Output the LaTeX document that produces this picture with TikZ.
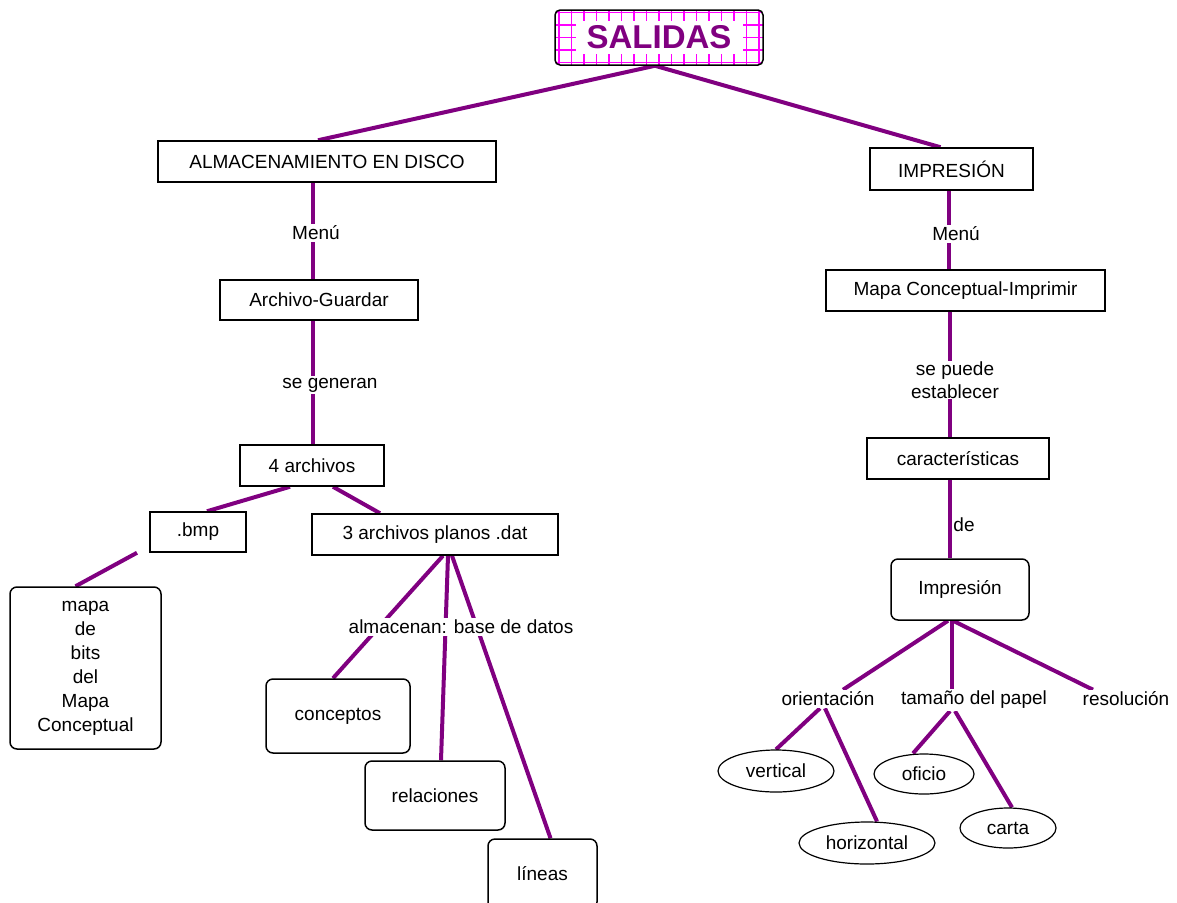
\documentclass[tikz,border=0pt]{standalone}
\usepackage{fontspec}
\setmainfont{Liberation Sans}
\definecolor{mypurple}{HTML}{800080}
\definecolor{mymagenta}{HTML}{FF00FF}
\usetikzlibrary{positioning, backgrounds, shapes.geometric}
\tikzset{
	conceptnode/.style={
			rectangle,
			draw=black,
			line width=1.5pt,
			fill=white,
			inner sep=0pt,
			font=\fontsize{19}{23}\selectfont
		},
	roundnode/.style={
			conceptnode,
			rounded corners=7pt,
			align=center
		},
	ovalnode/.style={
			ellipse,
			draw=black,
			line width=1.2pt,
			fill=white,
			inner sep=0pt,
			font=\fontsize{19}{23}\selectfont
		},
	linknode/.style={
			fill=white,
			inner sep=2pt,
			align=center,
			font=\fontsize{19}{23}\selectfont
		},
	titlenode/.style={
			rectangle,
			draw=black,
			line width=1.5pt,
			rounded corners=5pt,
			fill=white,
			minimum width=208pt,
			minimum height=55pt,
			path picture={
				\draw[mymagenta, line width=1.2pt, step=12.5pt]
					(path picture bounding box.south west) grid (path picture bounding box.north east);
			}
		},
	linkline/.style={
			draw=mypurple,
			line width=4pt
		}
}

\begin{document}
\begin{tikzpicture}[x=1pt, y=-1pt]
	\useasboundingbox (0,0) rectangle (1177,902);

	\node[titlenode] at (659,37.5) (salidas) {};
	\node[fill=white, text=mypurple, minimum width=167pt, minimum height=33pt, inner sep=0pt,
		font=\fontsize{33}{36}\selectfont\bfseries] at (salidas) {SALIDAS};

	\node[conceptnode, minimum width=338pt, minimum height=41pt] at (327,161.5) (almacen) {ALMACENAMIENTO EN DISCO};
	\node[linknode] at (316,233) (menua) {Menú};
	\node[conceptnode, minimum width=198pt, minimum height=40pt] at (319,300) (guardar) {Archivo-Guardar};
	\node[linknode] at (330,385) (generan) {se generan};
	\node[conceptnode, minimum width=144pt, minimum height=41pt] at (312,465.5) (cuatro) {4 archivos};
	\node[conceptnode, minimum width=96pt, minimum height=40pt] at (198,532) (bmp) {.bmp};
	\node[conceptnode, minimum width=246pt, minimum height=41pt] at (435,534.5) (dat) {3 archivos planos .dat};
	\node[roundnode, minimum width=151pt, minimum height=162pt] at (85.5,668) (mapa)
		{mapa\\[1pt]de\\[1pt]bits\\[1pt]del\\[1pt]Mapa\\[1pt]Conceptual};
	\node[linknode] at (461,627) (almacenan) {almacenan: base de datos};
	\node[roundnode, minimum width=144pt, minimum height=74pt] at (338,716) (conceptos) {conceptos};
	\node[roundnode, minimum width=140pt, minimum height=69pt] at (435,795.5) (relaciones) {relaciones};
	\node[roundnode, minimum width=109pt, minimum height=70pt] at (542.5,874) (lineas) {líneas};

	\node[conceptnode, minimum width=163pt, minimum height=42pt] at (951.5,169) (impresion) {IMPRESIÓN};
	\node[linknode] at (956,234) (menub) {Menú};
	\node[conceptnode, minimum width=279pt, minimum height=41pt] at (965.5,290.5) (imprimir) {Mapa Conceptual-Imprimir};
	\node[linknode, inner sep=1pt] at (955,380) (puede) {se puede\\establecer};
	\node[linknode, fill=none, inner sep=1pt] at (964,525) (de) {de};
	\node[conceptnode, minimum width=182pt, minimum height=41pt] at (958,458.5) (caract) {características};
	\node[roundnode, minimum width=138pt, minimum height=61pt] at (960,589.5) (impbox) {Impresión};
	\node[linknode] at (828,699) (orient) {orientación};
	\node[linknode] at (974,700) (tamano) {tamaño del papel};
	\node[linknode] at (1126,699) (resol) {resolución};
	\node[ovalnode, minimum width=116pt, minimum height=42pt] at (776,771) (vertical) {vertical};
	\node[ovalnode, minimum width=100pt, minimum height=40pt] at (924,774) (oficio) {oficio};
	\node[ovalnode, minimum width=136pt, minimum height=42pt] at (867,843) (horizontal) {horizontal};
	\node[ovalnode, minimum width=96pt, minimum height=40pt] at (1008,828) (carta) {carta};

	\begin{scope}[on background layer]
		\draw[linkline] ([xshift=-4pt]salidas.south) -- ([xshift=-9pt]almacen.north);
		\draw[linkline] ([xshift=-4pt]salidas.south) -- ([xshift=-11pt]impresion.north);
		\draw[linkline] ([xshift=-14pt]almacen.south) -- ([xshift=-6pt]guardar.north);
		\draw[linkline] ([xshift=-6pt]guardar.south) -- ([xshift=1pt]cuatro.north);
		\draw[linkline] ([xshift=-22pt]cuatro.south) -- ([xshift=9pt]bmp.north);
		\draw[linkline] ([xshift=21pt]cuatro.south) -- ([xshift=-55pt]dat.north);
		\draw[linkline] ([xshift=-61pt]bmp.south) -- ([xshift=-10pt]mapa.north);
		\draw[linkline] ([xshift=8pt]dat.south) -- ([xshift=-5pt]conceptos.north);
		\draw[linkline] ([xshift=13pt]dat.south) -- ([xshift=6pt]relaciones.north);
		\draw[linkline] ([xshift=17pt]dat.south) -- ([xshift=8pt]lineas.north);
		\draw[linkline] ([xshift=-2.5pt]impresion.south) -- ([xshift=-16.5pt]imprimir.north);
		\draw[linkline] ([xshift=-15.5pt]imprimir.south) -- ([xshift=-8pt]caract.north);
		\draw[linkline] ([xshift=-8pt]caract.south) -- ([xshift=-10pt]impbox.north);
		\draw[linkline] ([xshift=-12pt]impbox.south) -- ([xshift=15pt]orient.north);
		\draw[linkline] ([xshift=-8pt]impbox.south) -- ([xshift=-22pt]tamano.north);
		\draw[linkline] ([xshift=-7pt]impbox.south) -- ([xshift=-33pt]resol.north);
		\draw[linkline] ([xshift=-8pt]orient.south) -- (vertical.north);
		\draw[linkline] ([xshift=-3pt]orient.south) -- ([xshift=10pt]horizontal.north);
		\draw[linkline] ([xshift=-24pt]tamano.south) -- ([xshift=-11pt]oficio.north);
		\draw[linkline] ([xshift=-19pt]tamano.south) -- ([xshift=4pt]carta.north);
	\end{scope}
\end{tikzpicture}
\end{document}
